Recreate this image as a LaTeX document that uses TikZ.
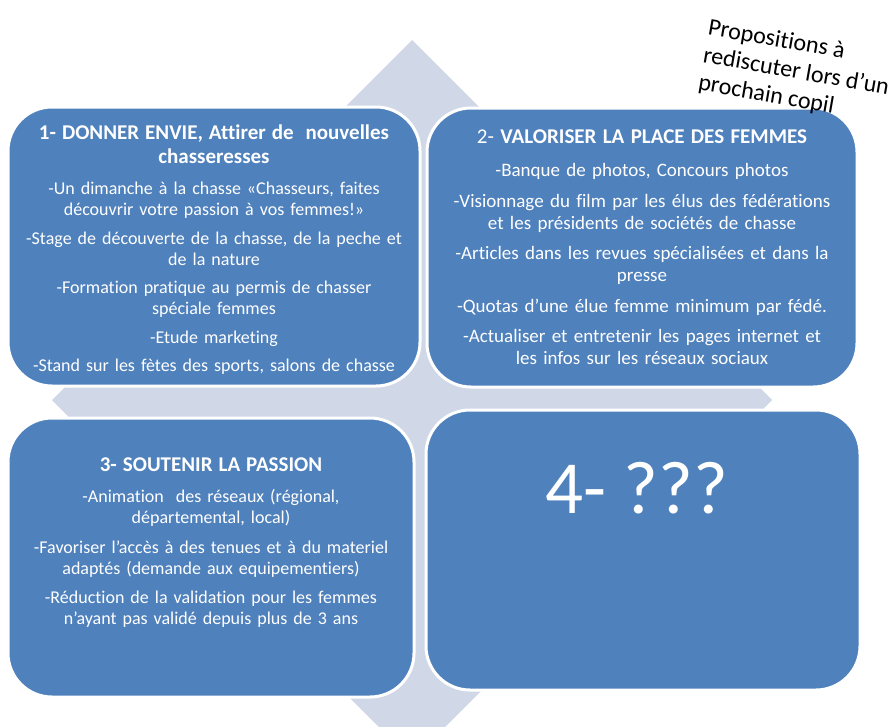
\documentclass[tikz,border=0pt]{standalone}
\usepackage{fontspec}
\setmainfont[Ligatures=NoCommon]{Carlito}
\usepackage{tikz}

\definecolor{cellblue}{HTML}{4F81BD}
\definecolor{crossgray}{HTML}{D0D8E8}
\setlength{\parindent}{0pt}
\newlength{\cellgap}
\newlength{\titlegap}

\tikzset{
	cell/.style={rectangle, rounded corners=44pt, fill=cellblue, draw=white, line width=3pt, inner sep=0pt},
	celltext/.style={text=white, text width=420pt, align=center, inner sep=0pt, anchor=north,
		font=\fontsize{18}{21}\selectfont},
}
\newcommand{\celltitle}[1]{{\fontsize{21}{24}\selectfont #1\par}\vspace{\titlegap}}
\newcommand{\itemgap}{\par\vspace{\cellgap}}

\begin{document}
\begin{tikzpicture}[x=1pt, y=-1pt]
		\useasboundingbox (0, 0) rectangle (891, 726);
		\clip (0, 0) rectangle (891, 726);

		\coordinate (X) at (412, 400);

		\coordinate (N) at (412, 40);
		\coordinate (E) at (772, 400);
		\coordinate (S) at (412, 760);
		\coordinate (W) at (52, 400);

		\fill[crossgray] (N) -- (512, 140) -- (512, 300) -- (672, 300) -- (E)
			-- (672, 500) -- (512, 500) -- (512, 660) -- (S)
			-- (312, 660) -- (312, 500) -- (152, 500) -- (W)
			-- (152, 300) -- (312, 300) -- (312, 140) -- cycle;

		\node[cell, minimum width=412pt, minimum height=279pt] (Q1) at (214, 246.5) {};
		\node[cell, minimum width=430pt, minimum height=279pt] (Q2) at (642, 247.5) {};
		\node[cell, minimum width=406pt, minimum height=279pt] (Q3) at (211, 557.5) {};
		\node[cell, minimum width=434pt, minimum height=280pt] (Q4) at (643, 550) {};

		\node[celltext] (T1) at (214, 125) {%
			\setlength{\titlegap}{10pt}\setlength{\cellgap}{7.5pt}%
			\celltitle{\bfseries 1- DONNER ENVIE, Attirer de\ \ nouvelles\\chasseresses}%
			-Un dimanche à la chasse «Chasseurs, faites\\découvrir votre passion à vos femmes!»\itemgap
			-Stage de découverte de la chasse, de la peche et\\de la nature\itemgap
			-Formation pratique au permis de chasser\\spéciale femmes\itemgap
			-Etude marketing\itemgap
			-Stand sur les fètes des sports, salons de chasse};

		\node[celltext, font=\fontsize{19}{22}\selectfont] (T2) at (642, 130) {%
			\setlength{\titlegap}{11pt}\setlength{\cellgap}{8.5pt}%
			\celltitle{2- \textbf{VALORISER LA PLACE DES FEMMES}}%
			-Banque de photos, Concours photos\itemgap
			-Visionnage du film par les élus des fédérations\\et les présidents de sociétés de chasse\itemgap
			-Articles dans les revues spécialisées et dans la\\presse\itemgap
			-Quotas d’une élue femme minimum par fédé.\itemgap
			-Actualiser et entretenir les pages internet et\\les infos sur les réseaux sociaux};

		\node[celltext] (T3) at (211, 458) {%
			\setlength{\titlegap}{10pt}\setlength{\cellgap}{8.5pt}%
			\celltitle{\bfseries 3- SOUTENIR LA PASSION}%
			-Animation\ \ des réseaux (régional,\\départemental, local)\itemgap
			-Favoriser l’accès à des tenues et à du materiel\\adaptés (demande aux equipementiers)\itemgap
			-Réduction de la validation pour les femmes\\n’ayant pas validé depuis plus de 3 ans};

		\node[text=white, inner sep=0pt, anchor=base, font=\fontsize{75}{80}\selectfont] (T4) at (637, 513) {4- ???};

		\node[rotate=-10, anchor=north west, inner sep=0pt, align=left, font=\fontsize{24}{28}\selectfont] (note) at (710, 18)
			{Propositions à\\rediscuter lors d’un\\prochain copil};
	\end{tikzpicture}
\end{document}
